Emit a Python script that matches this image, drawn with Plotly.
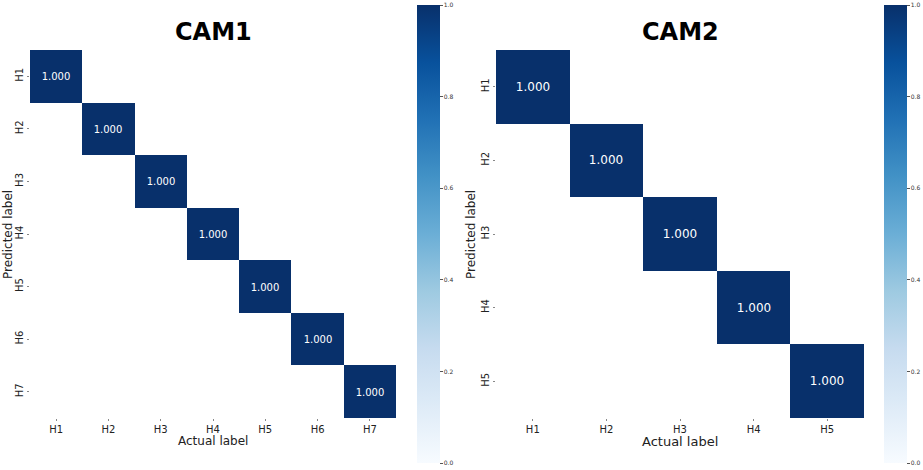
import plotly.graph_objects as go
import plotly.express as px

cam1_labels = ["H1", "H2", "H3", "H4", "H5", "H6", "H7"]
cam1_matrix = [
    [1.0, 0, 0, 0, 0, 0, 0],
    [0, 1.0, 0, 0, 0, 0, 0],
    [0, 0, 1.0, 0, 0, 0, 0],
    [0, 0, 0, 1.0, 0, 0, 0],
    [0, 0, 0, 0, 1.0, 0, 0],
    [0, 0, 0, 0, 0, 1.0, 0],
    [0, 0, 0, 0, 0, 0, 1.0],
]

cam2_labels = ["H1", "H2", "H3", "H4", "H5"]
cam2_matrix = [
    [1.0, 0, 0, 0, 0],
    [0, 1.0, 0, 0, 0],
    [0, 0, 1.0, 0, 0],
    [0, 0, 0, 1.0, 0],
    [0, 0, 0, 0, 1.0],
]

blues = px.colors.sequential.Blues
FONT = "DejaVu Sans"
W, H = 923, 470


def fx(x):
    return x / W


def fy(y):
    return 1 - y / H


def masked(m):
    # zero cells are left blank, like a seaborn mask
    z = [[v if v else None for v in row] for row in m]
    txt = [["{:.3f}".format(v) if v else "" for v in row] for row in m]
    return z, txt


fig = go.Figure()

panels = [
    (cam1_labels, cam1_matrix, "x", "y", fx(417), 10),
    (cam2_labels, cam2_matrix, "x2", "y2", fx(884), 12),
]
for labels, m, xa, ya, cbx, fsize in panels:
    z, txt = masked(m)
    fig.add_trace(go.Heatmap(
        z=z, x=labels, y=labels, text=txt, texttemplate="%{text}",
        textfont=dict(color="white", size=fsize, family=FONT),
        colorscale=blues, zmin=0, zmax=1,
        xaxis=xa, yaxis=ya, hoverongaps=False,
        colorbar=dict(x=cbx, xanchor="left", xpad=0, ypad=0,
                      y=fy(234), yanchor="middle",
                      len=458 / H, thickness=23, outlinewidth=0,
                      tickvals=[0, 0.2, 0.4, 0.6, 0.8, 1.0], tickformat=".1f",
                      ticks="outside", ticklen=3, tickcolor="#555",
                      tickfont=dict(size=6, family=FONT, color="#333")),
    ))

ax = dict(showgrid=False, zeroline=False, ticks="outside", ticklen=2,
          tickcolor="#888", showline=False,
          tickfont=dict(size=10, family=FONT, color="#222"))

fig.update_layout(
    width=W, height=H,
    margin=dict(l=0, r=0, t=0, b=0, autoexpand=False),
    paper_bgcolor="white", plot_bgcolor="white",
    xaxis=dict(ax, domain=[fx(30), fx(396)], anchor="y"),
    yaxis=dict(ax, domain=[fy(418), fy(50)], anchor="x",
               autorange="reversed", tickangle=-90),
    xaxis2=dict(ax, domain=[fx(496), fx(864)], anchor="y2"),
    yaxis2=dict(ax, domain=[fy(418), fy(50)], anchor="x2",
                autorange="reversed", tickangle=-90),
)

for xc, name in [(213, "CAM1"), (680, "CAM2")]:
    fig.add_annotation(x=fx(xc), y=fy(32), xref="paper", yref="paper",
                       xanchor="center", yanchor="middle",
                       text="<b>" + name + "</b>", showarrow=False,
                       font=dict(size=24, family=FONT, color="black"))

for xc, size in [(213, 12), (680, 13)]:
    fig.add_annotation(x=fx(xc), y=fy(441), xref="paper", yref="paper",
                       xanchor="center", yanchor="middle",
                       text="Actual label", showarrow=False,
                       font=dict(size=size, family=FONT, color="#222"))

for xc in [8, 471]:
    fig.add_annotation(x=fx(xc), y=fy(235), xref="paper", yref="paper",
                       xanchor="center", yanchor="middle",
                       text="Predicted label", showarrow=False, textangle=-90,
                       font=dict(size=12, family=FONT, color="#222"))

fig.show = None
# drop the default page margin so the figure sits at the window corner
fig.write_html("out.html", config={"displayModeBar": False},
               post_script="document.body.style.margin='0';")
